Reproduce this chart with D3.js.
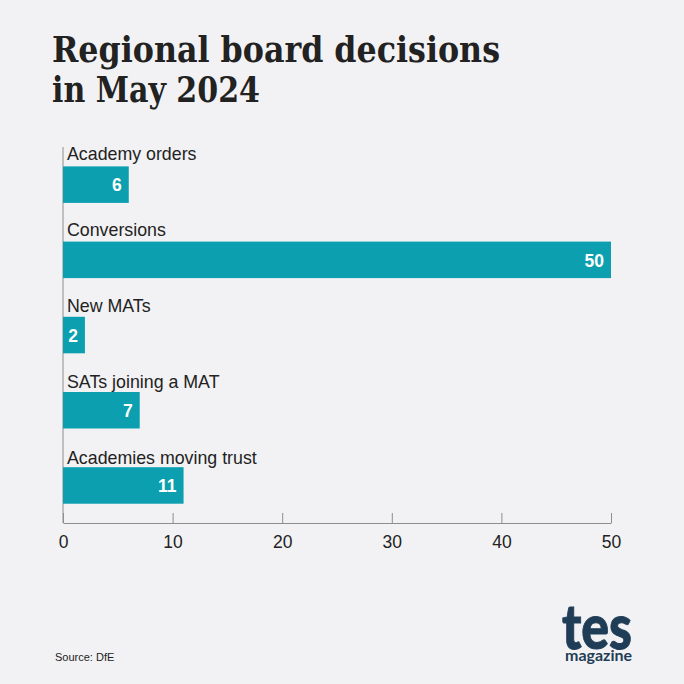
<!DOCTYPE html>
<html><head><meta charset="utf-8">
<script src="https://cdn.jsdelivr.net/npm/d3@7"></script>
<style>html,body{margin:0;padding:0;background:#f2f2f4}svg{display:block}</style></head>
<body><svg id="c" width="684" height="684"></svg>
<script>
const titleLines = ["Regional board decisions", "in May 2024"];
const titleWidths = [448, 208];
const categories = ["Academy orders", "Conversions", "New MATs", "SATs joining a MAT", "Academies moving trust"];
const values = [6, 50, 2, 7, 11];
const tickValues = [0, 10, 20, 30, 40, 50];
const sourceText = "Source: DfE";

const svg = d3.select("#c");
const sans = "'Liberation Sans', Arial, sans-serif";
svg.append("rect").attr("width",684).attr("height",684).attr("fill","#f2f2f4");

const x = d3.scaleLinear().domain([0,50]).range([63,611]);
const y = d3.scaleBand().domain(categories).range([147.4,523.4]);
const labelY = d3.scalePoint().domain(categories).range([160,464]);

svg.selectAll(".t").data(titleLines).join("text").attr("class","t")
  .attr("x",52).attr("y",(d,i)=>62+i*40)
  .attr("font-family","'DejaVu Serif Condensed','DejaVu Serif',serif").attr("font-stretch","condensed")
  .attr("font-weight",700).attr("font-size",35).attr("fill","#222222")
  .attr("textLength",(d,i)=>titleWidths[i]).attr("lengthAdjust","spacingAndGlyphs").text(d=>d);

const ax = d3.axisBottom(x).tickValues(tickValues).tickSize(-10).tickPadding(13).tickSizeOuter(0);
const g = svg.append("g").attr("transform","translate(0,523)").call(ax);
g.selectAll("line,path").attr("stroke","#8e8e8e");
g.selectAll("text").attr("font-family",sans).attr("font-size",17.5).attr("fill","#222");
svg.append("line").attr("x1",x(0)).attr("x2",x(0)).attr("y1",147).attr("y2",523).attr("stroke","#8e8e8e");

const row = svg.selectAll(".r").data(categories).join("g").attr("class","r");
row.append("rect").attr("x",x(0)).attr("y",d=>y(d)+19).attr("height",36.5)
  .attr("width",(d,i)=>x(values[i])-x(0)).attr("fill","#0b9fb0");
row.append("text").attr("x",x(0)+4).attr("y",d=>labelY(d)).attr("font-family",sans).attr("font-size",17.8).attr("fill","#222").text(d=>d);
row.append("text").attr("x",(d,i)=>x(values[i])-7).attr("y",d=>y(d)+44).attr("text-anchor","end")
  .attr("font-family",sans).attr("font-weight",700).attr("font-size",17.5).attr("fill","#fff").text((d,i)=>values[i]);

svg.append("text").attr("x",55).attr("y",661).attr("font-family",sans).attr("font-size",11).attr("fill","#222").text(sourceText);
svg.append("text").attr("x",562).attr("y",649).attr("font-family","Lato, sans-serif").attr("font-weight",900).attr("font-size",63).attr("textLength",70).attr("lengthAdjust","spacingAndGlyphs").attr("fill","#1f3d56").attr("stroke","#1f3d56").attr("stroke-width",1).text("tes");
svg.append("text").attr("x",565).attr("y",661).attr("font-family","Lato, sans-serif").attr("font-weight",700).attr("font-size",15).attr("textLength",67).attr("lengthAdjust","spacingAndGlyphs").attr("fill","#1f3d56").text("magazine");
</script></body></html>
